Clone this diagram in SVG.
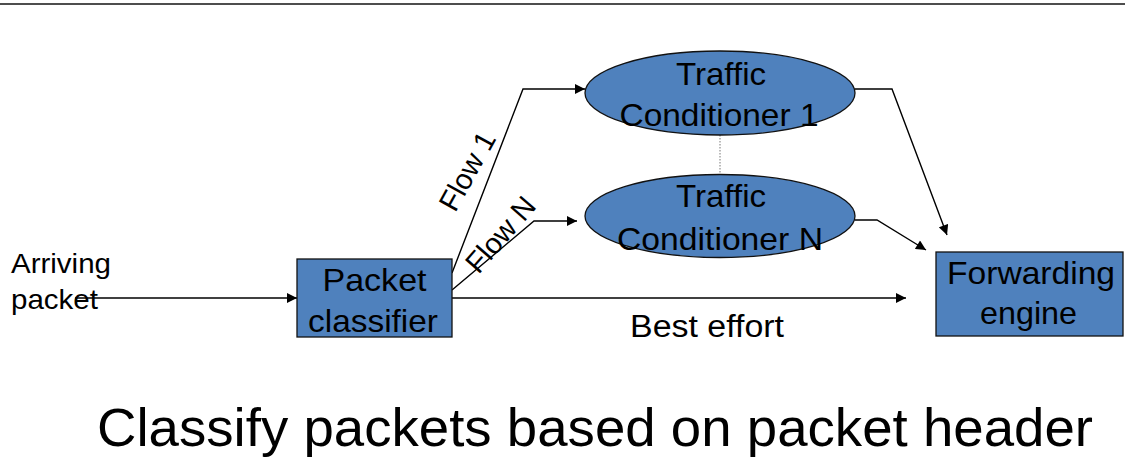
<svg xmlns="http://www.w3.org/2000/svg" width="1125" height="460" viewBox="0 0 1125 460">
  <style>
    .node { fill: #4F81BD; stroke: #111; stroke-width: 1.3; }
    .lbl { font-family: "Liberation Sans", Arial, sans-serif; fill: #000; }
    .in { font-size: 32px; text-anchor: middle; }
    .edge { fill: none; stroke: #000; stroke-width: 1.4; }
  </style>
  <defs>
    <marker id="arrow" viewBox="0 0 10 10" refX="10" refY="5" markerWidth="11" markerHeight="10" markerUnits="userSpaceOnUse" orient="auto">
      <path d="M0,0 L10,5 L0,10 Z" fill="#000"/>
    </marker>
  </defs>

  <rect x="0" y="3" width="1125" height="2" fill="#4d4d4d"/>

  <g id="connectors">
    <line class="edge" x1="75" y1="298" x2="297" y2="298" marker-end="url(#arrow)"/>
    <polyline class="edge" points="452,273 523,89 585,89" marker-end="url(#arrow)"/>
    <polyline class="edge" points="452,290 534,221 577,221" marker-end="url(#arrow)"/>
    <line class="edge" x1="452" y1="298" x2="906" y2="298" marker-end="url(#arrow)"/>
    <polyline class="edge" points="855,89 892,89 947,235" marker-end="url(#arrow)"/>
    <polyline class="edge" points="855,220 877,220 926,250" marker-end="url(#arrow)"/>
    <line x1="720" y1="135" x2="720" y2="175" stroke="#777" stroke-width="1" stroke-dasharray="1.5,1.5"/>
    <text class="lbl" font-size="29" text-anchor="middle" transform="translate(476,176) rotate(-61)">Flow 1</text>
    <text class="lbl" font-size="29" text-anchor="middle" transform="translate(508,241) rotate(-49)">Flow N</text>
    <text class="lbl" x="630" y="337" font-size="31" textLength="154" lengthAdjust="spacingAndGlyphs">Best effort</text>
  </g>

  <g id="arriving">
    <text class="lbl" x="11" y="273" font-size="28" textLength="100" lengthAdjust="spacingAndGlyphs">Arriving</text>
    <text class="lbl" x="11" y="309" font-size="28" textLength="87" lengthAdjust="spacingAndGlyphs">packet</text>
  </g>

  <g id="classifier">
    <rect class="node" x="297" y="259" width="155" height="78"/>
    <text class="lbl in" x="374.5" y="290.5" textLength="104" lengthAdjust="spacingAndGlyphs">Packet</text>
    <text class="lbl in" x="373" y="331.5" textLength="130" lengthAdjust="spacingAndGlyphs">classifier</text>
  </g>

  <g id="conditioner1">
    <ellipse class="node" cx="720" cy="93" rx="135" ry="42"/>
    <text class="lbl in" x="721" y="85" textLength="90" lengthAdjust="spacingAndGlyphs">Traffic</text>
    <text class="lbl in" x="719" y="126" textLength="199" lengthAdjust="spacingAndGlyphs">Conditioner 1</text>
  </g>

  <g id="conditionerN">
    <ellipse class="node" cx="720" cy="216" rx="135" ry="41.5"/>
    <text class="lbl in" x="721" y="206.5" textLength="90" lengthAdjust="spacingAndGlyphs">Traffic</text>
    <text class="lbl in" x="720" y="250" textLength="206" lengthAdjust="spacingAndGlyphs">Conditioner N</text>
  </g>

  <g id="forwarding">
    <rect class="node" x="936" y="252" width="187" height="84"/>
    <text class="lbl in" x="1031" y="283.5" textLength="168" lengthAdjust="spacingAndGlyphs">Forwarding</text>
    <text class="lbl in" x="1028.5" y="323.5" textLength="97" lengthAdjust="spacingAndGlyphs">engine</text>
  </g>

  <text class="lbl" x="97" y="446" font-size="53" textLength="996" lengthAdjust="spacingAndGlyphs">Classify packets based on packet header</text>
</svg>
